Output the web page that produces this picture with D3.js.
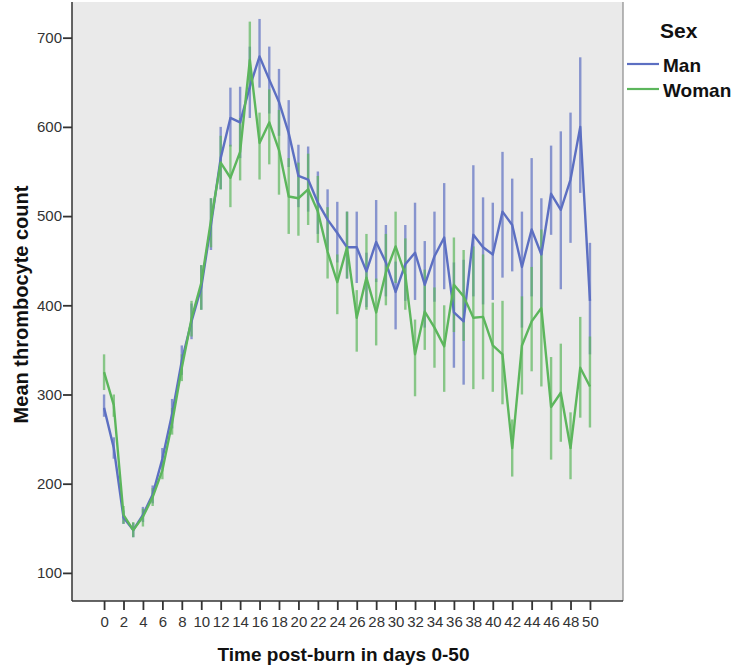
<!DOCTYPE html>
<html>
<head>
<meta charset="utf-8">
<script src="https://cdn.jsdelivr.net/npm/d3@7"></script>
<style>
	body { margin: 0; background: #fff; }
	text { font-family: "Liberation Sans", Arial, sans-serif; }
</style>
</head>
<body>
<svg id="chart"></svg>
<script>
// days post-burn
const days = [0,1,2,3,4,5,6,7,8,9,10,11,12,13,14,15,16,17,18,19,20,21,22,23,24,25,
	26,27,28,29,30,31,32,33,34,35,36,37,38,39,40,41,42,43,44,45,46,47,48,49,50];
const xTicks = [0,2,4,6,8,10,12,14,16,18,20,22,24,26,28,30,32,34,36,38,40,42,44,46,48,50];
const yTicks = [100,200,300,400,500,600,700];

// Man: mean and error bar ends
const manMean = [285,240,162,148,165,188,228,278,338,382,420,490,565,610,605,645,679,653,628,593,
	545,541,515,496,481,465,465,438,471,448,415,446,459,423,455,476,392,382,479,465,
	457,505,490,443,485,457,525,507,541,600,405];
const manLow = [275,228,155,140,157,178,218,262,322,362,395,462,530,578,565,610,644,615,590,555,
	510,505,480,462,448,430,425,398,426,410,373,405,406,375,404,418,330,311,410,401,
	406,431,438,375,410,398,479,418,470,526,345];
const manHigh = [300,252,170,156,174,198,240,295,355,402,445,520,600,644,645,690,721,690,665,630,
	580,578,550,530,516,505,505,459,518,490,449,490,515,472,505,537,448,451,557,521,
	515,572,542,505,565,520,579,595,616,678,470];

// Woman: mean and error bar ends
const womanMean = [325,288,165,148,163,185,215,268,330,385,425,495,560,543,572,675,582,605,574,522,
	520,530,505,460,426,465,386,431,392,437,466,434,345,393,375,354,423,410,386,387,
	355,345,240,355,382,397,286,302,240,330,309];
const womanLow = [305,275,155,140,152,175,205,255,315,365,395,465,530,510,540,642,541,558,524,480,
	478,490,470,430,390,430,348,395,355,400,425,395,298,350,330,303,370,360,306,317,
	303,289,208,300,326,309,227,247,205,274,263];
const womanHigh = [345,300,175,157,172,195,225,285,345,405,445,520,590,580,610,718,616,642,619,565,
	560,570,545,510,457,505,417,480,430,480,505,475,384,440,420,400,476,462,466,457,
	403,405,272,410,443,485,342,357,280,387,365];

const seriesNames = ['Man', 'Woman'];
const seriesColors = ['#5c6fc2', '#5cb65c'];

class ErrorLineChart {

	constructor(_config) {
		this.config = _config;
		this.initVis();
	}

	initVis() {
		let vis = this;

		vis.svg = d3.select(vis.config.parentElement)
			.attr('width', vis.config.containerWidth)
			.attr('height', vis.config.containerHeight);

		vis.series = [
			{ name: seriesNames[0], color: seriesColors[0],
				values: days.map((d, i) => ({ day: d, mean: manMean[i], low: manLow[i], high: manHigh[i] })) },
			{ name: seriesNames[1], color: seriesColors[1],
				values: days.map((d, i) => ({ day: d, mean: womanMean[i], low: womanLow[i], high: womanHigh[i] })) }
		];

		const m = vis.config.margin;
		vis.width = vis.config.containerWidth - m.left - m.right;
		vis.height = vis.config.containerHeight - m.top - m.bottom;

		vis.xScale = d3.scaleLinear().domain([-3.3, 53.4]).range([0, vis.width]);
		vis.yScale = d3.scaleLinear().domain([68.5, 740]).range([vis.height, 0]);

		vis.chartArea = vis.svg.append('g')
			.attr('transform', `translate(${m.left},${m.top})`);

		vis.renderVis();
	}

	renderVis() {
		let vis = this;

		// plot background
		vis.chartArea.append('rect')
			.attr('width', vis.width)
			.attr('height', vis.height)
			.attr('fill', '#eaeaea');

		vis.chartArea.append('line')
			.attr('x1', vis.width).attr('x2', vis.width)
			.attr('y1', 0).attr('y2', vis.height)
			.attr('stroke', '#8a8a8a').attr('stroke-width', 1.2);

		// axes
		const xAxis = d3.axisBottom(vis.xScale).tickValues(xTicks).tickSize(9).tickPadding(6);
		const yAxis = d3.axisLeft(vis.yScale).tickValues(yTicks).tickSize(9).tickPadding(1);

		const xg = vis.chartArea.append('g')
			.attr('transform', `translate(0,${vis.height})`)
			.call(xAxis);
		const yg = vis.chartArea.append('g').call(yAxis);

		[xg, yg].forEach(g => {
			g.select('.domain').remove();
			g.selectAll('.tick line').attr('stroke', '#333').attr('stroke-width', 1.8);
			g.selectAll('.tick text')
				.attr('fill', '#333')
				.style('font-size', '15px')
				.style('font-family', '"Liberation Sans", Arial, sans-serif');
		});

		vis.chartArea.append('line')
			.attr('x1', 0).attr('x2', 0).attr('y1', 0).attr('y2', vis.height)
			.attr('stroke', '#333').attr('stroke-width', 1.5);
		vis.chartArea.append('line')
			.attr('x1', 0).attr('x2', vis.width).attr('y1', vis.height).attr('y2', vis.height)
			.attr('stroke', '#333').attr('stroke-width', 1.5);

		// error bars
		vis.series.forEach(s => {
			vis.chartArea.append('g')
				.selectAll('line')
				.data(s.values)
				.join('line')
				.attr('x1', d => vis.xScale(d.day))
				.attr('x2', d => vis.xScale(d.day))
				.attr('y1', d => vis.yScale(d.low))
				.attr('y2', d => vis.yScale(d.high))
				.attr('stroke', s.color)
				.attr('stroke-opacity', 0.7)
				.attr('stroke-width', 2.4);
		});

		// mean lines
		const line = d3.line()
			.x(d => vis.xScale(d.day))
			.y(d => vis.yScale(d.mean));

		vis.series.forEach(s => {
			vis.chartArea.append('path')
				.datum(s.values)
				.attr('d', line)
				.attr('fill', 'none')
				.attr('stroke', s.color)
				.attr('stroke-width', 2.4)
				.attr('stroke-linejoin', 'round');
		});

		// axis titles
		vis.svg.append('text')
			.attr('transform', `translate(28,${vis.config.margin.top + vis.height / 2 + 3}) rotate(-90)`)
			.attr('text-anchor', 'middle')
			.style('font-size', '20px')
			.style('font-weight', 'bold')
			.attr('fill', '#111')
			.text('Mean thrombocyte count');

		vis.svg.append('text')
			.attr('x', vis.config.margin.left + vis.width / 2 - 4)
			.attr('y', 661)
			.attr('text-anchor', 'middle')
			.style('font-size', '19px')
			.style('font-weight', 'bold')
			.attr('fill', '#111')
			.text('Time post-burn in days 0-50');

		// legend
		const legend = vis.svg.append('g');
		legend.append('text')
			.attr('x', 660).attr('y', 38)
			.style('font-size', '21px').style('font-weight', 'bold')
			.attr('fill', '#111')
			.text('Sex');

		const items = legend.selectAll('.legend-item')
			.data(vis.series)
			.join('g')
			.attr('class', 'legend-item')
			.attr('transform', (d, i) => `translate(0,${64 + i * 25})`);

		items.append('line')
			.attr('x1', 627).attr('x2', 659)
			.attr('stroke', d => d.color)
			.attr('stroke-width', 2.2);

		items.append('text')
			.attr('x', 663).attr('y', 8)
			.style('font-size', '19px').style('font-weight', 'bold')
			.attr('fill', '#111')
			.text(d => d.name);
	}
}

const chart = new ErrorLineChart({
	parentElement: '#chart',
	containerWidth: 736,
	containerHeight: 667,
	margin: { top: 2, right: 113, bottom: 66, left: 72 }
});
</script>
</body>
</html>
